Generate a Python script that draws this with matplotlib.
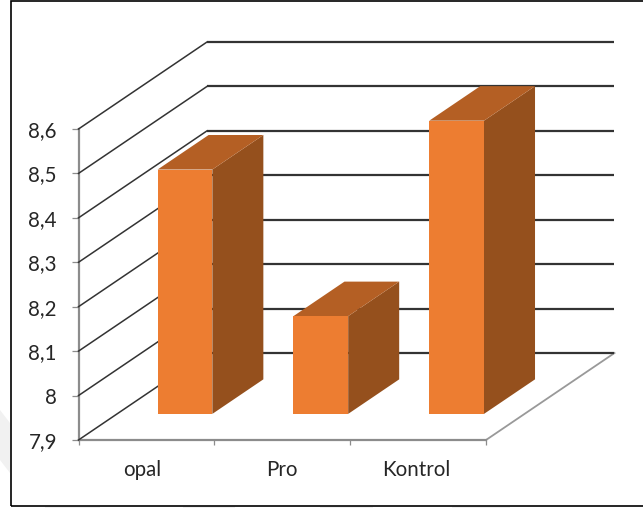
#!/usr/bin/python3

import matplotlib
matplotlib.use("Agg")
import matplotlib.pyplot as plt
from matplotlib.patches import Rectangle, Polygon

categories = ["opal", "Pro", "Kontrol"]
values = [8.45, 8.12, 8.56]
y_ticks = [7.9, 8.0, 8.1, 8.2, 8.3, 8.4, 8.5, 8.6]
y_labels = ["7,9", "8", "8,1", "8,2", "8,3", "8,4", "8,5", "8,6"]

W, H = 643, 508
plt.rcParams["font.family"] = ["Lato", "DejaVu Sans"]

fig = plt.figure(figsize=(W / 100, H / 100), dpi=100)


def fig_xy(px, py):
    return px / W, 1 - py / H


# pale background shapes showing outside the frame
pale = "#f1f1f1"
fig.patches.append(Polygon([fig_xy(0, 410), fig_xy(10, 423), fig_xy(10, 473), fig_xy(0, 460)],
                           transform=fig.transFigure, facecolor=pale, edgecolor="none"))
for start, end in [(45, 100), (183, 235), (320, 373), (452, 510)]:
    fig.patches.append(Rectangle(fig_xy(start, 508), (end - start) / W, 2 / H,
                                 transform=fig.transFigure, facecolor=pale, edgecolor="none"))

# frame around the chart, runs off the right edge
fig.patches.append(Rectangle(fig_xy(10.5, 505.5), 640 / W, 505 / H, transform=fig.transFigure,
                             fill=False, edgecolor="black", linewidth=1.2))

# front plane of the box, everything else is sheared back from it
ax = fig.add_axes([78.5 / W, 1 - 440 / H, 407.5 / W, 311 / H])
ax.patch.set_visible(False)
ax.set_xlim(0, 3)
ax.set_ylim(7.9, 8.6)

# how far depth=1 moves a point, in data units
shift_x = 128.5 / (407.5 / 3)
shift_y = 87 / (311 / 0.7)


def project(x, v, depth):
    return x + depth * shift_x, v + depth * shift_y


for tick in y_ticks:
    x0, y0 = project(0, tick, 0)
    x1, y1 = project(0, tick, 1)
    x2, y2 = project(3, tick, 1)
    ax.plot([x0, x1], [y0, y1], color="#333333", linewidth=1.1, clip_on=False, zorder=3)
    ax.plot([x1, x2], [y1, y2], color="#333333", linewidth=1.6, clip_on=False, zorder=3,
            solid_capstyle="butt")

# right edge of the floor
x0, y0 = project(3, 7.9, 0)
x1, y1 = project(3, 7.9, 1)
ax.plot([x0, x1], [y0, y1], color="#999999", linewidth=1.3, clip_on=False, zorder=1)

bar_width = 0.403
depth_front = 0.3
depth_back = 0.697
bar_front = "#ed7d31"
bar_top = "#b45f24"
bar_side = "#95501d"

for i, value in enumerate(values):
    left = i + 0.5 - bar_width / 2
    right = left + bar_width

    front = [project(left, 7.9, depth_front), project(right, 7.9, depth_front),
             project(right, value, depth_front), project(left, value, depth_front)]
    side = [project(right, 7.9, depth_front), project(right, 7.9, depth_back),
            project(right, value, depth_back), project(right, value, depth_front)]
    top = [project(left, value, depth_front), project(right, value, depth_front),
           project(right, value, depth_back), project(left, value, depth_back)]
    ax.add_patch(Polygon(side, facecolor=bar_side, edgecolor="none", clip_on=False, zorder=4))
    ax.add_patch(Polygon(top, facecolor=bar_top, edgecolor="none", clip_on=False, zorder=4))
    ax.add_patch(Polygon(front, facecolor=bar_front, edgecolor="none", clip_on=False, zorder=5))

for side_name in ["top", "right"]:
    ax.spines[side_name].set_visible(False)
for side_name in ["left", "bottom"]:
    ax.spines[side_name].set_color("#8c8c8c")
    ax.spines[side_name].set_linewidth(1.6)

ax.set_yticks(y_ticks)
ax.set_yticklabels(y_labels)
ax.set_xticks([0, 1, 2, 3])
ax.set_xticklabels([])
ax.set_xticks([0.47, 1.495, 2.49], labels=categories, minor=True)
ax.tick_params(axis="y", length=5, width=0.9, color="#8c8c8c", labelsize=14.8, labelcolor="#262626", pad=10.5)
ax.tick_params(axis="x", which="major", length=3.6, width=0.9, color="#8c8c8c")
ax.tick_params(axis="x", which="minor", length=0, labelsize=14.8, labelcolor="#262626", pad=14.5)

fig.savefig("out.png", dpi=100)
